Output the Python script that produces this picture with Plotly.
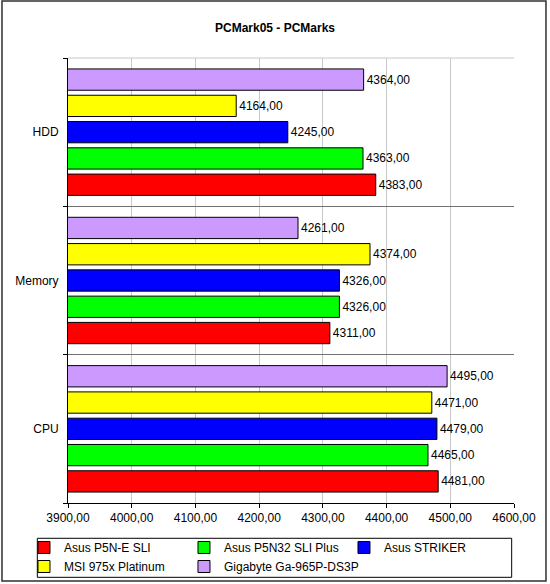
import plotly.graph_objects as go

# data
categories = ["CPU", "Memory", "HDD"]
boards = [
    "Asus P5N-E SLI",
    "Asus P5N32 SLI Plus",
    "Asus STRIKER",
    "MSI 975x Platinum",
    "Gigabyte Ga-965P-DS3P",
]
asus_p5ne = [4481, 4311, 4383]
asus_p5n32 = [4465, 4326, 4363]
asus_striker = [4479, 4326, 4245]
msi_975x = [4471, 4374, 4164]
gigabyte_965p = [4495, 4261, 4364]
colors = ["#FF0000", "#00FF00", "#0000FF", "#FFFF00", "#CC99FF"]

series = [asus_p5ne, asus_p5n32, asus_striker, msi_975x, gigabyte_965p]

FONT = "Liberation Sans, Arial, sans-serif"

fig = go.Figure()
for name, values, color in zip(boards, series, colors):
    fig.add_trace(go.Bar(
        y=categories,
        x=values,
        name=name,
        orientation="h",
        marker=dict(color=color, line=dict(color="#000000", width=1)),
        texttemplate="%{x:.2f}",
        textposition="outside",
        textfont=dict(family=FONT, size=12, color="#000000"),
        cliponaxis=False,
    ))

fig.update_layout(
    width=550,
    height=584,
    margin=dict(l=68, r=36, t=58, b=81, autoexpand=False),
    paper_bgcolor="white",
    plot_bgcolor="white",
    separators=", ",
    barmode="group",
    bargap=0.114,
    bargroupgap=0.19,
    font=dict(family=FONT, size=12, color="#000000"),
    title=dict(
        text="<b>PCMark05 - PCMarks</b>",
        x=0.5, xref="container", xanchor="center",
        y=1 - 27.5 / 584, yref="container", yanchor="middle",
        font=dict(family=FONT, size=12, color="#000000"),
    ),
    xaxis=dict(
        range=[3900, 4600],
        dtick=100,
        tick0=3900,
        tickformat=".2f",
        showgrid=True,
        gridcolor="#C8C8C8",
        gridwidth=1,
        zeroline=False,
        showline=True,
        linecolor="#000000",
        linewidth=1,
        ticks="outside",
        ticklen=4,
        tickcolor="#000000",
        tickfont=dict(family=FONT, size=12),
    ),
    yaxis=dict(
        tickson="boundaries",
        showgrid=True,
        gridcolor="#707070",
        gridwidth=1,
        zeroline=False,
        showline=True,
        linecolor="#000000",
        linewidth=1,
        ticks="outside",
        ticklen=4,
        tickcolor="#000000",
        ticklabelstandoff=6,
        tickfont=dict(family=FONT, size=12),
    ),
    legend=dict(
        orientation="h",
        x=-0.0987, xanchor="left",
        y=-0.0674, yanchor="top",
        traceorder="normal",
        bgcolor="rgba(0,0,0,0)",
        borderwidth=0,
        itemwidth=30,
        entrywidth=115,
        entrywidthmode="pixels",
        font=dict(family=FONT, size=12),
    ),
    showlegend=True,
    shapes=[
        # light top edge of the plot area
        dict(type="line", xref="paper", yref="paper", x0=0, x1=1, y0=1, y1=1,
             line=dict(color="#C8C8C8", width=1), layer="above"),
        # legend box
        dict(type="rect", xref="paper", yref="paper",
             x0=-0.0688, x1=0.9948, y0=-0.167, y1=-0.0793,
             line=dict(color="#000000", width=1), layer="below"),
        # outer chart frame
        dict(type="rect", xref="paper", yref="paper",
             x0=-0.148, x1=1.0717, y0=-0.1753, y1=1.128,
             line=dict(color="#303030", width=1.5), layer="above"),
    ],
)

# the page has a default body margin; drop it so the chart sits at the corner
fig.write_html(
    "out.html",
    config={"displayModeBar": False},
    post_script="document.body.style.margin='0';",
)
